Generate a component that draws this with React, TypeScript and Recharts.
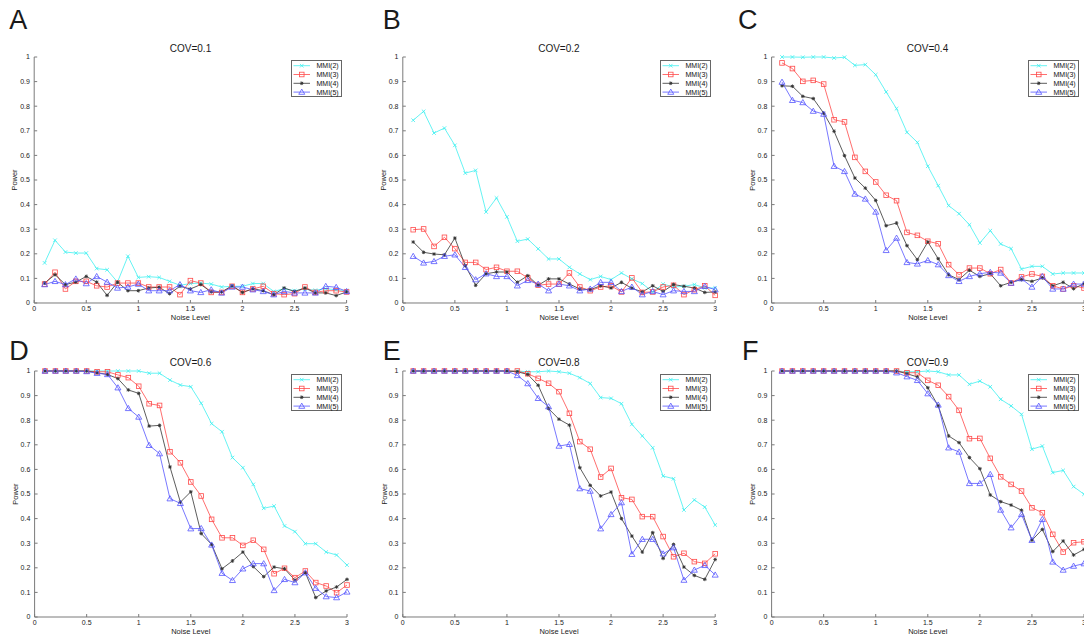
import React from "react";
import { LineChart, Line, XAxis, YAxis, Legend } from "recharts";

const noise = [
  0.1, 0.2, 0.3, 0.4, 0.5, 0.6, 0.7, 0.8, 0.9, 1.0, 1.1, 1.2, 1.3, 1.4, 1.5,
  1.6, 1.7, 1.8, 1.9, 2.0, 2.1, 2.2, 2.3, 2.4, 2.5, 2.6, 2.7, 2.8, 2.9, 3.0,
];
const xTicks = [0, 0.5, 1, 1.5, 2, 2.5, 3];
const yTicks = [0, 0.1, 0.2, 0.3, 0.4, 0.5, 0.6, 0.7, 0.8, 0.9, 1];

// COV=0.1
const cov01Mmi2 = [0.163, 0.255, 0.207, 0.203, 0.203, 0.14, 0.135, 0.085, 0.19, 0.104, 0.107, 0.104, 0.088, 0.072, 0.079, 0.081, 0.077, 0.065, 0.068, 0.068, 0.079, 0.079, 0.047, 0.058, 0.05, 0.057, 0.052, 0.058, 0.054, 0.05];
const cov01Mmi3 = [0.077, 0.125, 0.057, 0.088, 0.088, 0.07, 0.065, 0.081, 0.081, 0.081, 0.065, 0.065, 0.065, 0.034, 0.091, 0.081, 0.043, 0.043, 0.068, 0.043, 0.057, 0.068, 0.038, 0.034, 0.038, 0.065, 0.043, 0.05, 0.05, 0.045];
const cov01Mmi4 = [0.081, 0.115, 0.075, 0.085, 0.108, 0.085, 0.031, 0.084, 0.05, 0.05, 0.061, 0.064, 0.038, 0.068, 0.057, 0.075, 0.045, 0.045, 0.07, 0.043, 0.058, 0.05, 0.034, 0.061, 0.047, 0.061, 0.041, 0.041, 0.03, 0.045];
const cov01Mmi5 = [0.075, 0.088, 0.075, 0.098, 0.079, 0.108, 0.085, 0.061, 0.065, 0.077, 0.05, 0.05, 0.05, 0.075, 0.05, 0.043, 0.054, 0.041, 0.065, 0.065, 0.054, 0.047, 0.034, 0.047, 0.041, 0.041, 0.041, 0.068, 0.064, 0.047];

// COV=0.2
const cov02Mmi2 = [0.743, 0.779, 0.691, 0.711, 0.641, 0.528, 0.539, 0.37, 0.427, 0.35, 0.251, 0.26, 0.22, 0.179, 0.179, 0.145, 0.118, 0.095, 0.108, 0.095, 0.122, 0.098, 0.079, 0.045, 0.077, 0.065, 0.068, 0.075, 0.061, 0.061];
const cov02Mmi3 = [0.298, 0.301, 0.23, 0.267, 0.221, 0.165, 0.165, 0.136, 0.145, 0.129, 0.129, 0.102, 0.072, 0.077, 0.077, 0.122, 0.065, 0.05, 0.065, 0.07, 0.045, 0.102, 0.043, 0.045, 0.065, 0.072, 0.034, 0.054, 0.07, 0.031];
const cov02Mmi4 = [0.248, 0.206, 0.199, 0.196, 0.264, 0.152, 0.072, 0.119, 0.126, 0.126, 0.084, 0.111, 0.072, 0.098, 0.098, 0.077, 0.057, 0.054, 0.07, 0.061, 0.084, 0.06, 0.045, 0.07, 0.047, 0.075, 0.068, 0.061, 0.043, 0.045];
const cov02Mmi5 = [0.19, 0.163, 0.169, 0.19, 0.196, 0.145, 0.095, 0.119, 0.108, 0.108, 0.07, 0.092, 0.077, 0.05, 0.077, 0.07, 0.05, 0.057, 0.084, 0.084, 0.047, 0.065, 0.034, 0.047, 0.034, 0.05, 0.047, 0.047, 0.068, 0.054];

// COV=0.4
const cov04Mmi2 = [1.0, 1.0, 0.999, 1.0, 1.0, 0.996, 0.999, 0.966, 0.969, 0.928, 0.858, 0.79, 0.694, 0.653, 0.556, 0.477, 0.396, 0.363, 0.318, 0.244, 0.294, 0.24, 0.221, 0.138, 0.149, 0.149, 0.118, 0.122, 0.122, 0.122];
const cov04Mmi3 = [0.976, 0.953, 0.901, 0.905, 0.89, 0.745, 0.736, 0.592, 0.535, 0.492, 0.438, 0.416, 0.287, 0.275, 0.251, 0.241, 0.156, 0.115, 0.142, 0.142, 0.119, 0.136, 0.081, 0.106, 0.118, 0.108, 0.07, 0.057, 0.07, 0.061];
const cov04Mmi4 = [0.883, 0.881, 0.84, 0.831, 0.772, 0.698, 0.599, 0.508, 0.467, 0.417, 0.314, 0.325, 0.233, 0.176, 0.248, 0.18, 0.115, 0.095, 0.133, 0.108, 0.119, 0.07, 0.084, 0.095, 0.088, 0.102, 0.07, 0.084, 0.058, 0.079];
const cov04Mmi5 = [0.898, 0.824, 0.815, 0.78, 0.768, 0.556, 0.535, 0.443, 0.423, 0.37, 0.214, 0.264, 0.165, 0.159, 0.173, 0.156, 0.112, 0.088, 0.108, 0.119, 0.125, 0.122, 0.081, 0.099, 0.065, 0.108, 0.057, 0.057, 0.077, 0.077];

// COV=0.6
const cov06Mmi2 = [1, 1, 1, 1, 1, 1, 1, 1, 1, 1, 0.991, 0.991, 0.963, 0.943, 0.936, 0.869, 0.786, 0.753, 0.648, 0.607, 0.539, 0.442, 0.451, 0.37, 0.347, 0.298, 0.298, 0.264, 0.252, 0.211];
const cov06Mmi3 = [1, 1, 1, 1, 1, 0.997, 0.997, 0.984, 0.973, 0.938, 0.867, 0.86, 0.672, 0.627, 0.549, 0.492, 0.397, 0.322, 0.322, 0.291, 0.312, 0.275, 0.176, 0.198, 0.16, 0.187, 0.14, 0.126, 0.099, 0.13];
const cov06Mmi4 = [1, 1, 1, 1, 1, 0.993, 0.986, 0.969, 0.923, 0.909, 0.776, 0.779, 0.61, 0.467, 0.509, 0.339, 0.295, 0.196, 0.228, 0.264, 0.205, 0.164, 0.203, 0.196, 0.15, 0.18, 0.079, 0.106, 0.122, 0.153];
const cov06Mmi5 = [1, 1, 1, 1, 0.998, 0.991, 0.986, 0.932, 0.848, 0.813, 0.698, 0.664, 0.481, 0.462, 0.359, 0.36, 0.293, 0.178, 0.149, 0.196, 0.217, 0.217, 0.108, 0.153, 0.14, 0.18, 0.117, 0.083, 0.079, 0.102];

// COV=0.8
const cov08Mmi2 = [1, 1, 1, 1, 1, 1, 1, 1, 1, 1, 1, 0.997, 0.997, 1, 0.997, 0.991, 0.973, 0.949, 0.892, 0.889, 0.867, 0.783, 0.736, 0.688, 0.573, 0.562, 0.435, 0.476, 0.447, 0.374];
const cov08Mmi3 = [1, 1, 1, 1, 1, 1, 1, 1, 1, 1, 1, 0.989, 0.97, 0.95, 0.916, 0.828, 0.713, 0.682, 0.569, 0.604, 0.485, 0.478, 0.408, 0.408, 0.327, 0.245, 0.259, 0.225, 0.218, 0.257];
const cov08Mmi4 = [1, 1, 1, 1, 1, 1, 1, 1, 1, 1, 0.997, 0.986, 0.942, 0.847, 0.804, 0.78, 0.607, 0.535, 0.492, 0.508, 0.4, 0.329, 0.264, 0.343, 0.238, 0.295, 0.203, 0.169, 0.153, 0.234];
const cov08Mmi5 = [1, 1, 1, 1, 1, 1, 1, 1, 1, 1, 0.982, 0.949, 0.889, 0.855, 0.695, 0.702, 0.522, 0.512, 0.359, 0.417, 0.465, 0.255, 0.316, 0.316, 0.257, 0.282, 0.15, 0.191, 0.21, 0.171];

// COV=0.9
const cov09Mmi2 = [1, 1, 1, 1, 1, 1, 1, 1, 1, 1, 1, 1, 0.997, 0.997, 1, 0.997, 0.984, 0.984, 0.946, 0.959, 0.936, 0.885, 0.858, 0.824, 0.682, 0.695, 0.587, 0.596, 0.53, 0.499];
const cov09Mmi3 = [1, 1, 1, 1, 1, 1, 1, 1, 1, 1, 1, 1, 0.993, 0.993, 0.962, 0.942, 0.896, 0.84, 0.725, 0.726, 0.645, 0.57, 0.539, 0.512, 0.444, 0.424, 0.336, 0.264, 0.302, 0.306];
const cov09Mmi4 = [1, 1, 1, 1, 1, 1, 1, 1, 1, 1, 1, 1, 0.989, 0.976, 0.932, 0.858, 0.736, 0.709, 0.648, 0.603, 0.496, 0.469, 0.455, 0.434, 0.312, 0.356, 0.266, 0.309, 0.252, 0.275];
const cov09Mmi5 = [1, 1, 1, 1, 1, 1, 1, 1, 1, 1, 1, 0.993, 0.977, 0.962, 0.908, 0.862, 0.688, 0.671, 0.543, 0.543, 0.58, 0.435, 0.363, 0.417, 0.312, 0.397, 0.224, 0.191, 0.207, 0.217];

const series = [
  { key: "mmi2", name: "MMI(2)", color: "#3ff0f0", marker: "x" },
  { key: "mmi3", name: "MMI(3)", color: "#ff4a4a", marker: "square" },
  { key: "mmi4", name: "MMI(4)", color: "#333333", marker: "star" },
  { key: "mmi5", name: "MMI(5)", color: "#5555ff", marker: "triangle" },
];

const panels = [
  { letter: "A", title: "COV=0.1", values: [cov01Mmi2, cov01Mmi3, cov01Mmi4, cov01Mmi5], left: 34.3, top: 57.3, gap: 19.6, lx: 9.3, ly: 29.3 },
  { letter: "B", title: "COV=0.2", values: [cov02Mmi2, cov02Mmi3, cov02Mmi4, cov02Mmi5], left: 402.7, top: 57.3, gap: 19.4, lx: 382.7, ly: 29.3 },
  { letter: "C", title: "COV=0.4", values: [cov04Mmi2, cov04Mmi3, cov04Mmi4, cov04Mmi5], left: 771.3, top: 57.3, gap: 19.3, lx: 738, ly: 29.3 },
  { letter: "D", title: "COV=0.6", values: [cov06Mmi2, cov06Mmi3, cov06Mmi4, cov06Mmi5], left: 34.3, top: 371.3, gap: 19.3, lx: 9.3, ly: 359.7 },
  { letter: "E", title: "COV=0.8", values: [cov08Mmi2, cov08Mmi3, cov08Mmi4, cov08Mmi5], left: 402.7, top: 371.3, gap: 18.4, lx: 382.7, ly: 359.7 },
  { letter: "F", title: "COV=0.9", values: [cov09Mmi2, cov09Mmi3, cov09Mmi4, cov09Mmi5], left: 771.3, top: 371.3, gap: 19.3, lx: 742, ly: 359.7 },
];

const PLOT_W = 312.4;
const PLOT_H = 246;
const FONT = "'Liberation Sans', Arial, Helvetica, sans-serif";

function marker(kind: string, cx: number, cy: number, color: string, key?: any) {
  if (cx == null || cy == null) return <g key={key} />;
  if (kind === "x") {
    const r = 1.8;
    return (
      <g key={key} stroke={color} strokeWidth={0.8}>
        <line x1={cx - r} y1={cy - r} x2={cx + r} y2={cy + r} />
        <line x1={cx - r} y1={cy + r} x2={cx + r} y2={cy - r} />
      </g>
    );
  }
  if (kind === "square") {
    return <rect key={key} x={cx - 2.3} y={cy - 2.3} width={4.6} height={4.6} fill="none" stroke={color} strokeWidth={0.8} />;
  }
  if (kind === "star") {
    const r = 1.8;
    return (
      <g key={key} stroke={color} strokeWidth={0.9}>
        <line x1={cx - r} y1={cy} x2={cx + r} y2={cy} />
        <line x1={cx} y1={cy - r} x2={cx} y2={cy + r} />
        <line x1={cx - 1.3} y1={cy - 1.3} x2={cx + 1.3} y2={cy + 1.3} />
        <line x1={cx - 1.3} y1={cy + 1.3} x2={cx + 1.3} y2={cy - 1.3} />
      </g>
    );
  }
  return (
    <polygon
      key={key}
      points={`${cx},${cy - 3} ${cx - 3},${cy + 2.2} ${cx + 3},${cy + 2.2}`}
      fill="none"
      stroke={color}
      strokeWidth={0.8}
    />
  );
}

function LegendBox() {
  return (
    <svg width={51} height={37} style={{ display: "block" }}>
      <rect x={0.5} y={0.5} width={50} height={36} fill="#fff" stroke="#666" strokeWidth={1} />
      {series.map((s, i) => {
        const y = 5.7 + i * 8.8;
        return (
          <g key={s.key}>
            <line x1={2.5} y1={y} x2={19} y2={y} stroke={s.color} strokeWidth={0.8} />
            {marker(s.marker, 10.75, y, s.color)}
            <text x={25.5} y={y + 2.5} fontSize={7} fill="#111" fontFamily={FONT}>
              {s.name}
            </text>
          </g>
        );
      })}
    </svg>
  );
}

function Panel({ p }: { p: (typeof panels)[number] }) {
  const rows = noise.map((x, i) => ({
    x,
    mmi2: p.values[0][i],
    mmi3: p.values[1][i],
    mmi4: p.values[2][i],
    mmi5: p.values[3][i],
  }));
  const W = p.gap * 2;
  const TM = 5;
  const RM = 10;
  const XH = 17;
  const BM = 6;
  const axisStyle = { fontSize: 7, fill: "#222", fontFamily: FONT };
  return (
    <div style={{ position: "absolute", left: p.left - W, top: p.top - TM }}>
      <LineChart
        width={W + PLOT_W + RM}
        height={TM + PLOT_H + XH + BM}
        data={rows}
        margin={{ top: TM, right: RM, bottom: BM, left: 0 }}
      >
        <XAxis
          type="number"
          dataKey="x"
          domain={[0, 3]}
          ticks={xTicks}
          interval={0}
          height={XH}
          tickSize={-3}
          tickMargin={6}
          stroke="#7a7a7a"
          tick={axisStyle}
          label={{ value: "Noise Level", position: "insideBottom", offset: 0, ...axisStyle, fontSize: 7.5 }}
        />
        <YAxis
          type="number"
          domain={[0, 1]}
          ticks={yTicks}
          interval={0}
          width={W}
          tickSize={-3}
          tickMargin={7.3}
          stroke="#7a7a7a"
          tick={axisStyle}
          label={{ value: "Power", angle: -90, position: "center", ...axisStyle, fontSize: 7.5 }}
        />
        <Legend
          layout="vertical"
          align="center"
          verticalAlign="middle"
          content={() => <LegendBox />}
          wrapperStyle={{ left: W + PLOT_W - 4.5 - 51, top: TM + 3, width: 51, height: 37 }}
        />
        {series.map((s) => (
          <Line
            key={s.key}
            type="linear"
            dataKey={s.key}
            name={s.name}
            stroke={s.color}
            strokeWidth={0.8}
            dot={(d: any) => marker(s.marker, d.cx, d.cy, s.color, `${s.key}-${d.index}`)}
            activeDot={false}
            isAnimationActive={false}
          />
        ))}
      </LineChart>
    </div>
  );
}

export default function App() {
  return (
    <div
      style={{
        position: "absolute",
        left: 0,
        top: 0,
        width: 1084,
        height: 636,
        overflow: "hidden",
        background: "#fff",
      }}
    >
      {panels.map((p) => (
        <Panel key={p.letter} p={p} />
      ))}
      <svg width={1084} height={636} style={{ position: "absolute", left: 0, top: 0, pointerEvents: "none" }}>
        {panels.map((p) => (
          <g key={p.letter} fontFamily={FONT} fill="#1a1a1a">
            <text x={p.lx} y={p.ly} fontSize={27}>
              {p.letter}
            </text>
            <text x={p.left + PLOT_W / 2} y={p.top - 5.6} fontSize={10} textAnchor="middle">
              {p.title}
            </text>
          </g>
        ))}
      </svg>
    </div>
  );
}
